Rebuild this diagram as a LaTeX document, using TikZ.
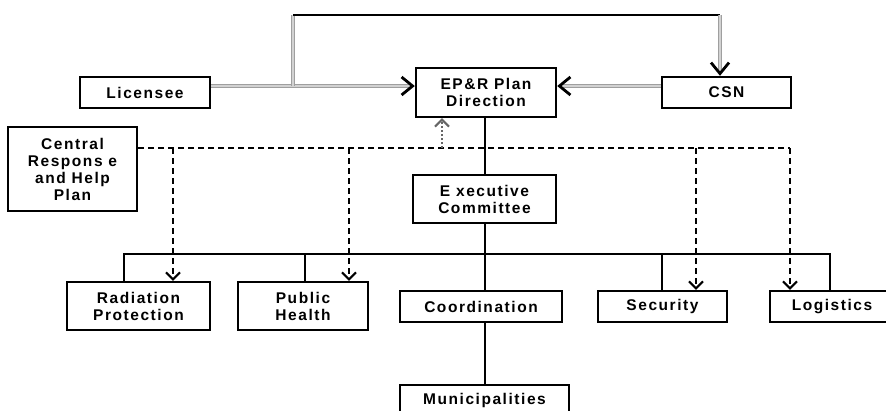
\documentclass[tikz,border=0pt]{standalone}
\usepackage{fontspec}
\newfontfamily\boxfont[LetterSpace=10]{Liberation Sans}
\usetikzlibrary{arrows.meta}
\begin{document}
\begin{tikzpicture}[x=1pt,y=-1pt,
  box/.style={draw, line width=2.4pt, fill=white, inner sep=0pt, align=center,
    font=\boxfont\fontsize{15.5}{17}\selectfont\bfseries},
  dbl/.style={draw=gray!75, double=gray!35, double distance=1.7pt, line width=1.3pt},
  topline/.style={draw=black, line width=2pt},
  ln/.style={draw=black, line width=2.2pt},
  dsh/.style={draw=black, line width=2.2pt, dash pattern=on 6pt off 4pt},
  gdsh/.style={draw=gray!80!black, line width=2.2pt, dash pattern=on 2.5pt off 1.5pt},
  bigtip/.style={-{Straight Barb[length=11pt,width=18pt,line width=2.8pt]}},
  smalltip/.style={-{Straight Barb[length=7pt,width=14pt,line width=2pt]}}
]
\useasboundingbox (0,0) rectangle (886,410);
% nodes
\node[box, minimum width=130pt, minimum height=31pt] (lic) at (145,92.5) {Licensee};
\node[box, minimum width=140pt, minimum height=49pt] (epr) at (486,92.5) {EP\&R Plan\\Direction};
\node[box, minimum width=129pt, minimum height=31pt] (csn) at (726.5,92.5) {CSN};
\node[box, minimum width=129pt, minimum height=84pt] (crh) at (72.5,169) {Central\\Respons e\\and Help\\Plan};
\node[box, minimum width=143pt, minimum height=48pt] (exe) at (484.5,199) {E xecutive\\Committee};
\node[box, minimum width=143pt, minimum height=48pt] (rad) at (138.5,306) {Radiation\\Protection};
\node[box, minimum width=130pt, minimum height=48pt] (ph) at (303,306) {Public\\Health};
\node[box, minimum width=162pt, minimum height=31pt] (coo) at (481,306.5) {Coordination};
\node[box, minimum width=129pt, minimum height=31pt] (sec) at (662.5,306.5) {Security};
\node[box, minimum width=124pt, minimum height=31pt] (log) at (832,306.5) {Logistics};
\node[box, minimum width=169pt, minimum height=31pt] (mun) at (484.5,400.5) {Municipalities};
% coordinates
\coordinate (hy) at (0,86);
\coordinate (j) at (293,86);
\coordinate (tl) at (293,15);
\coordinate (tr) at (720,15);
\coordinate (dy) at (0,148);
\coordinate (d1) at (173,148);
\coordinate (d2) at (349,148);
\coordinate (d3) at (442,148);
\coordinate (d4) at (696,148);
\coordinate (d5) at (790,148);
\coordinate (vx) at (485,0);
\coordinate (bl) at (124,254);
\coordinate (b2) at (305,254);
\coordinate (b4) at (662,254);
\coordinate (br) at (830,254);
% double connectors
\draw[dbl] (lic.east |- hy) -- ([xshift=-3pt]epr.west |- hy);
\draw[bigtip] ([xshift=-1pt]epr.west |- hy) -- (epr.west |- hy);
\draw[dbl] (csn.west |- hy) -- ([xshift=3pt]epr.east |- hy);
\draw[bigtip] ([xshift=1pt]epr.east |- hy) -- (epr.east |- hy);
\draw[dbl] (j) -- (tl);
\draw[topline] (tl) -- (tr);
\draw[dbl] (tr) -- ([yshift=3pt]tr |- csn.north);
\draw[bigtip] ([yshift=1pt]tr |- csn.north) -- (tr |- csn.north);
% solid hierarchy
\draw[ln] (epr.south -| vx) -- (exe.north -| vx);
\draw[ln] (exe.south -| vx) -- (coo.north -| vx);
\draw[ln] (coo.south -| vx) -- (mun.north -| vx);
\draw[ln] (bl |- rad.north) -- (bl) -- (br) -- (br |- log.north);
\draw[ln] (b2) -- (b2 |- ph.north);
\draw[ln] (b4) -- (b4 |- sec.north);
% dashed
\draw[dsh] (crh.east |- dy) -- (d5);
\draw[dsh, smalltip] (d5) -- (d5 |- log.north);
\draw[dsh, smalltip] (d1) -- (d1 |- rad.north);
\draw[dsh, smalltip] (d2) -- (d2 |- ph.north);
\draw[dsh, smalltip] (d4) -- (d4 |- sec.north);
\draw[gdsh, smalltip] (d3) -- (d3 |- epr.south);
\end{tikzpicture}
\end{document}
